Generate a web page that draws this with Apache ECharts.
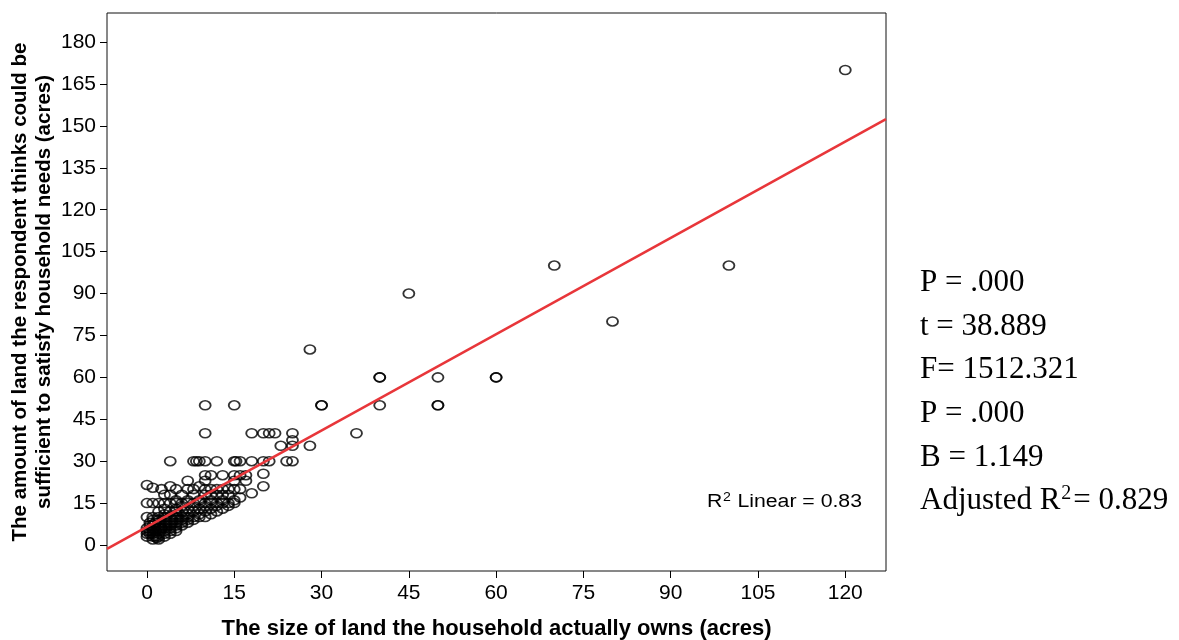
<!DOCTYPE html>
<html>
<head>
<meta charset="utf-8">
<script src="https://cdn.jsdelivr.net/npm/echarts@6/dist/echarts.min.js"></script>
<style>
  html, body { margin: 0; padding: 0; background: #fff; }
  #chart { width: 1179px; height: 640px; }
</style>
</head>
<body>
<div id="chart"></div>
<script>
// Land owned vs. land considered sufficient (acres), one [owned, needed] pair per household
const largeHoldings = [
  [120,170],[100,100],[70,100],[80,80],[45,90],[28,70],
  [60,60],[60,60],[50,60],[40,60],[40,60],
  [50,50],[50,50],[40,50],[30,50],[30,50],[15,50],[10,50],
  [36,40],[25,40],[22,40],[21,40],[20,40],[18,40],[10,40],
  [25,37.5],[23,35.5],[25,35.5],[28,35.5]
];
const midHoldings = [
  [4,30],[8,30],[8.5,30],[9,30],[10,30],[12,30],[15,30],[15.3,30],[16,30],[18,30],[20,30],[21,30],[24,30],[25,30],
  [10,25],[11,25],[13,25],[15,25],[16,25],[17,25],[20,25.5],
  [7,23],[10,23],[15,23],[17,23],
  [0,21.5],[1,20.5],[2.5,20],[4,21],[5,20],[7,20],[8,20],[9,21],[10,20],[11,20],[12,20],[13,20],[14,20],[15,20],[16,20],[20,21],
  [3,18],[4,18],[6,18],[8,18],[10,18],[11,18],[12,18],[13,18],[14,18],[16,17],[18,18.5],
  [5,16],[7,16],[9,16],[11,16],[13,16],[15,16]
];
const smallHoldings = [
  [0,15],[1,15],[2,15],[3,15],[4,15],[5,15],[6,15],[7,15],[8,15],[9,15],[10,15],[11,15],[12,15],[13,15],[14,15],[15,15],
  [6,14],[8,14],[10,14],[12,14],[14,14],
  [3,13],[5,13],[7,13],[9,13],[11,13],[13,13],
  [2,12],[4,12],[5,12],[6,12],[8,12],[10,12],[12,12],
  [3,11],[5,11],[7,11],[9,11],[11,11],
  [0,10],[1,10],[2,10],[3,10],[4,10],[5,10],[6,10],[7,10],[8,10],[9,10],[10,10],
  [1,9],[2,9],[3,9],[4,9],[5,9],[6,9],[7,9],[8,9],
  [0.5,8],[1.5,8],[2,8],[3,8],[4,8],[5,8],[6,8],[7,8],
  [0.5,7],[1,7],[2,7],[3,7],[4,7],[5,7],[6,7],
  [0,6],[1,6],[2,6],[2.5,6],[3,6],[4,6],[5,6],
  [0,5],[0.5,5],[1,5],[1.5,5],[2,5],[3,5],[4,5],[5,5],
  [0,4],[0.5,4],[1,4],[2,4],[3,4],[4,4],
  [0,3],[1,3],[1.5,3],[2,3],[3,3],
  [1,2],[2,2],[1.7,2.5]
];

// Axis ranges and tick labels
const xRange = [-6.87, 127];
const yRange = [-9.3, 190.4];
const xTicks = [0, 15, 30, 45, 60, 75, 90, 105, 120];
const yTicks = [0, 15, 30, 45, 60, 75, 90, 105, 120, 135, 150, 165, 180];
const yTitle = 'The amount of land the respondent thinks could be\nsufficient to satisfy household needs (acres)';
const xTitle = 'The size of land the household actually owns (acres)';

// Linear fit (needed = intercept + slope * owned)
const fitIntercept = 6.5;
const fitSlope = 1.149;

// Regression summary shown beside the plot
const statLines = ['P = .000', 't = 38.889', 'F= 1512.321', 'P = .000', 'B = 1.149'];
const adjustedR2 = '0.829';
const linearR2 = '0.83';

const allPoints = largeHoldings.concat(midHoldings, smallHoldings);
const fitLine = xRange.map(x => [x, fitIntercept + fitSlope * x]);

const SANS = 'Liberation Sans, Arial, sans-serif';
const SERIF = 'Liberation Serif, Times New Roman, serif';

// Text measuring helper for placing superscripts
const measureCtx = document.createElement('canvas').getContext('2d');
function textWidth(str, size, family) {
  measureCtx.font = size + 'px ' + family;
  return measureCtx.measureText(str).width;
}

function txt(x, y, text, size, family, align, vAlign) {
  return {
    type: 'text', x: x, y: y,
    style: {
      text: text, fontSize: size, fontFamily: family, fill: '#000',
      align: align || 'left', verticalAlign: vAlign || 'middle',
      textAlign: align || 'left', textVerticalAlign: vAlign || 'middle'
    }
  };
}

// Summary block at the right
const statLeft = 920;
const statTop = 283;
const statStep = 43.6;
const statSize = 31;
const statGraphics = statLines.map((t, i) => txt(statLeft, statTop + i * statStep, t, statSize, SERIF));

const adjY = statTop + 5 * statStep;
const adjMain = 'Adjusted R';
const adjW = textWidth(adjMain, statSize, SERIF);
const supSize = 20;
const supW = textWidth('2', supSize, SERIF);
statGraphics.push(
  txt(statLeft, adjY, adjMain, statSize, SERIF),
  txt(statLeft + adjW + 1, adjY - 17, '2', supSize, SERIF, 'left', 'top'),
  txt(statLeft + adjW + supW + 3, adjY, '= ' + adjustedR2, statSize, SERIF)
);

// In-plot fit label, right-aligned at the plot's right side
const fitSize = 18;
const fitRest = ' Linear = ' + linearR2;
const wR = textWidth('R', fitSize, SANS);
const w2 = textWidth('2', 12, SANS);
const wRest = textWidth(fitRest, fitSize, SANS);
const total = wR + w2 + 1 + wRest;
const fitLabel = {
  type: 'group', x: 862, y: 502, scaleX: 1.18, scaleY: 1,
  children: [
    txt(-total, 0, 'R', fitSize, SANS),
    txt(-total + wR + 0.5, -10, '2', 12, SANS, 'left', 'top'),
    txt(-total + wR + w2 + 1, 0, fitRest, fitSize, SANS)
  ]
};

// Vertical axis title, two rotated lines centred on the plot height
const yTitleGraphic = {
  type: 'text', x: 32, y: 292, rotation: Math.PI / 2,
  style: {
    text: yTitle, fontSize: 20.5, fontWeight: 'bold', fontFamily: SANS, fill: '#000',
    lineHeight: 24, align: 'center', verticalAlign: 'middle',
    textAlign: 'center', textVerticalAlign: 'middle'
  }
};

const chart = echarts.init(document.getElementById('chart'), null, { renderer: 'canvas' });

const tickFont = { fontFamily: SANS, fontSize: 21, color: '#000' };

chart.setOption({
  backgroundColor: '#fff',
  animation: false,
  grid: {
    left: 107, top: 13, width: 779, height: 558,
    containLabel: false, outerBoundsMode: 'none',
    show: true, borderColor: '#111', borderWidth: 1, backgroundColor: '#fff'
  },
  xAxis: {
    type: 'value', min: xRange[0], max: xRange[1],
    splitLine: { show: false },
    axisLine: { show: false, onZero: false },
    axisTick: { show: true, customValues: xTicks, length: 7, lineStyle: { color: '#000', width: 1 } },
    axisLabel: Object.assign({ customValues: xTicks, margin: 12 }, tickFont),
    name: xTitle,
    nameLocation: 'middle', nameGap: 47,
    nameTextStyle: { fontFamily: SANS, fontWeight: 'bold', fontSize: 22, color: '#000' }
  },
  yAxis: {
    type: 'value', min: yRange[0], max: yRange[1],
    splitLine: { show: false },
    axisLine: { show: false, onZero: false },
    axisTick: { show: true, customValues: yTicks, length: 7, lineStyle: { color: '#000', width: 1 } },
    axisLabel: Object.assign({ customValues: yTicks, margin: 11 }, tickFont)
  },
  series: [
    {
      type: 'scatter',
      data: allPoints,
      symbol: 'circle',
      symbolSize: [11, 9],
      itemStyle: { color: 'rgba(255,255,255,0)', borderColor: '#000', borderWidth: 1.7 },
      z: 2
    },
    {
      type: 'line',
      data: fitLine,
      symbol: 'none',
      lineStyle: { color: '#e8363a', width: 2.5 },
      clip: true,
      z: 3
    }
  ],
  graphic: statGraphics.concat([fitLabel, yTitleGraphic])
});
</script>
</body>
</html>
